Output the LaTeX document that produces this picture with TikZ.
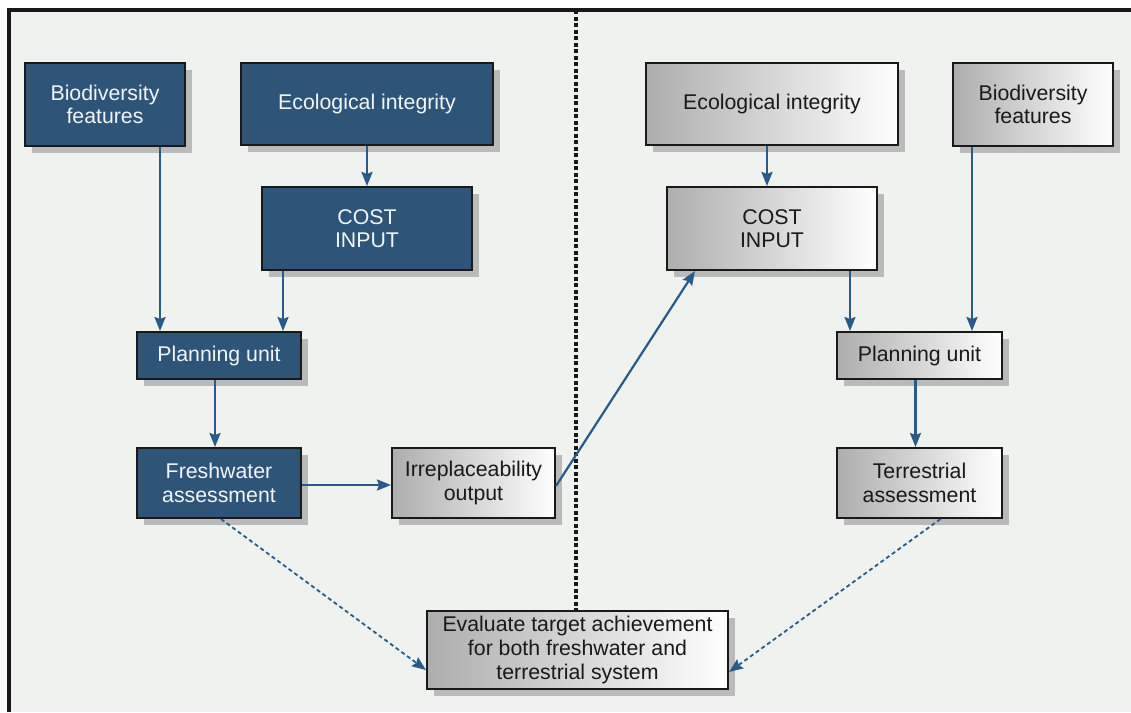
\documentclass[tikz,border=0pt]{standalone}
\usepackage{fontspec}
\setmainfont{Liberation Sans}
\usetikzlibrary{arrows.meta,shadows}
\definecolor{panelbg}{HTML}{EFF2EE}
\definecolor{boxblue}{HTML}{2E5478}
\definecolor{arrowblue}{HTML}{2A5A88}
\definecolor{boxtext}{HTML}{F2F5F8}
\tikzset{
	box/.style={draw=black!90, line width=2pt, inner sep=0pt, align=center,
		font=\fontsize{21.3}{23.5}\selectfont,
		drop shadow={fill=black!27, opacity=1, shadow xshift=7pt, shadow yshift=-7pt}},
	bluebox/.style={box, fill=boxblue, text=boxtext},
	graybox/.style={box, left color=black!32, right color=white, text=black!90},
	arr/.style={draw=arrowblue, line width=2.2pt, -{Stealth[length=14pt,width=11pt,inset=2pt]}},
	dasharr/.style={arr, line width=1.8pt, dash pattern=on 4pt off 3pt}
}

\begin{document}
\begin{tikzpicture}[x=1pt, y=-1pt]
		%%%%% START %%%%%
		
		\useasboundingbox (0, 0) rectangle (1131, 712);
		\fill[white] (0, 0) rectangle (1131, 712);
		\fill[panelbg] (8, 10) rectangle (1131, 712);
		\draw[line width=3.5pt, color=black!90] (9, 712) -- (9, 10) -- (1131, 10);
		
		% freshwater side
		\node[bluebox, minimum width=160pt, minimum height=83pt] (bioL) at (105, 104.5) {Biodiversity\\features};
		\node[bluebox, minimum width=252pt, minimum height=82pt] (ecoL) at (367, 104) {Ecological integrity};
		\node[bluebox, minimum width=210pt, minimum height=83pt] (costL) at (367, 228.5) {COST\\INPUT};
		\node[bluebox, minimum width=164pt, minimum height=47pt] (planL) at (219, 355.5) {Planning unit};
		\node[bluebox, minimum width=164pt, minimum height=70pt] (fresh) at (219, 483) {Freshwater\\assessment};
		\node[graybox, minimum width=163pt, minimum height=70pt] (irrep) at (473.5, 483) {Irreplaceability\\output};
		
		% terrestrial side
		\node[graybox, minimum width=252pt, minimum height=82pt] (ecoR) at (772, 104) {Ecological integrity};
		\node[graybox, minimum width=160pt, minimum height=83pt] (bioR) at (1033, 104.5) {Biodiversity\\features};
		\node[graybox, minimum width=210pt, minimum height=83pt] (costR) at (772, 228.5) {COST\\INPUT};
		\node[graybox, minimum width=165pt, minimum height=47pt] (planR) at (919.5, 355.5) {Planning unit};
		\node[graybox, minimum width=165pt, minimum height=70pt] (terr) at (919.5, 483) {Terrestrial\\assessment};
		
		\node[graybox, minimum width=301pt, minimum height=78pt, font=\fontsize{21.3}{24}\selectfont] (eval) at (577.5, 650) {Evaluate target achievement\\for both freshwater and\\terrestrial system};
		
		% divider
		\coordinate (divtop) at (576, 10);
		\draw[line width=3.5pt, color=black!90, dash pattern=on 4pt off 2.5pt] (divtop) -- (divtop |- eval.north);
		
		\draw[arr] ([xshift=55pt]bioL.south) -- ([xshift=55pt]bioL.south |- planL.north);
		\draw[arr] (ecoL.south) -- (costL.north);
		\draw[arr] ([xshift=-84pt]costL.south) -- ([xshift=-84pt]costL.south |- planL.north);
		\draw[arr] ([xshift=-4pt]planL.south) -- ([xshift=-4pt]fresh.north);
		\draw[arr] ([yshift=-2pt]fresh.east) -- ([yshift=-2pt]irrep.west);
		\draw[arr] ([yshift=-3pt]irrep.east) -- ([xshift=-77pt]costR.south);
		
		\draw[arr] ([xshift=-5pt]ecoR.south) -- ([xshift=-5pt]costR.north);
		\draw[arr] ([xshift=78pt]costR.south) -- ([xshift=78pt]costR.south |- planR.north);
		\draw[arr] ([xshift=-61pt]bioR.south) -- ([xshift=-61pt]bioR.south |- planR.north);
		\draw[arr] ([xshift=-4pt]planR.south) -- ([xshift=-4pt]terr.north);
		
		\draw[dasharr] ([xshift=2pt]fresh.south) -- ([yshift=-20pt]eval.west);
		\draw[dasharr] ([xshift=21pt]terr.south) -- ([yshift=-22pt]eval.east);
		
		%%%%% END %%%%%
	\end{tikzpicture}
\end{document}
